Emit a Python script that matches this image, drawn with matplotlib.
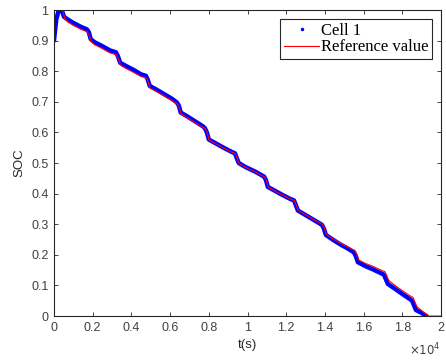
import matplotlib
matplotlib.use("Agg")
import matplotlib.pyplot as plt
from matplotlib.lines import Line2D

# Cell 1 (estimated SOC) knots
cell_t = [0, 120, 250, 430, 520, 650, 1000, 1400, 1700, 1800,
          1900, 2100, 2500, 2900, 3200, 3300, 3420, 3700, 4100, 4500,
          4750, 4850, 4950, 5300, 5700, 6100, 6350, 6450, 6550, 6900,
          7300, 7700, 7800, 7900, 8000, 8400, 8800, 9200, 9350, 9450,
          9550, 9900, 10400, 10850, 10950, 11050, 11400, 11800, 12200, 12400,
          12500, 12600, 13000, 13400, 13850, 13950, 14050, 14400, 14800, 15200,
          15500, 15600, 15700, 16100, 16500, 16900, 17050, 17150, 17250, 17600,
          18000, 18400, 18500, 18600, 18700, 19000, 19250]
cell_soc = [0.90, 0.97, 1.0, 0.995, 0.978, 0.972, 0.958, 0.945, 0.937, 0.928,
            0.905, 0.895, 0.882, 0.868, 0.862, 0.850, 0.828, 0.818, 0.805, 0.790,
            0.785, 0.772, 0.752, 0.740, 0.725, 0.710, 0.698, 0.688, 0.665, 0.652,
            0.636, 0.620, 0.614, 0.600, 0.577, 0.563, 0.549, 0.536, 0.532, 0.515,
            0.500, 0.487, 0.472, 0.456, 0.445, 0.422, 0.410, 0.396, 0.383, 0.378,
            0.362, 0.345, 0.330, 0.315, 0.298, 0.285, 0.265, 0.250, 0.234, 0.220,
            0.208, 0.195, 0.176, 0.163, 0.152, 0.140, 0.135, 0.120, 0.105, 0.090,
            0.072, 0.055, 0.050, 0.035, 0.020, 0.010, 0.0]

# Reference value knots
ref_t = [0, 450, 560, 700, 1000, 1400, 1720, 1820, 1920, 2100,
         2500, 2900, 3220, 3320, 3440, 3700, 4100, 4500, 4770, 4870,
         4970, 5300, 5700, 6100, 6370, 6470, 6570, 6900, 7300, 7700,
         7820, 7920, 8020, 8400, 8800, 9200, 9370, 9470, 9570, 9900,
         10400, 10870, 10970, 11070, 11400, 11800, 12200, 12420, 12520, 12620,
         13000, 13400, 13870, 13970, 14070, 14400, 14800, 15200, 15550, 15650,
         15750, 16100, 16500, 16900, 17100, 17200, 17300, 17600, 18000, 18400,
         18550, 18650, 18750, 19050, 19330, 20000]
ref_soc = [1.0, 1.0, 0.972, 0.962, 0.950, 0.937, 0.929, 0.918, 0.897, 0.887,
           0.874, 0.860, 0.854, 0.842, 0.820, 0.810, 0.797, 0.783, 0.778, 0.765,
           0.745, 0.734, 0.719, 0.704, 0.693, 0.683, 0.660, 0.648, 0.632, 0.617,
           0.612, 0.598, 0.575, 0.562, 0.548, 0.535, 0.531, 0.514, 0.499, 0.486,
           0.471, 0.455, 0.444, 0.421, 0.409, 0.396, 0.383, 0.378, 0.362, 0.345,
           0.331, 0.316, 0.300, 0.287, 0.267, 0.253, 0.238, 0.225, 0.214, 0.201,
           0.183, 0.172, 0.162, 0.150, 0.145, 0.131, 0.116, 0.101, 0.083, 0.066,
           0.061, 0.046, 0.031, 0.015, 0.0, 0.0]

xticks = [0, 2000, 4000, 6000, 8000, 10000, 12000, 14000, 16000, 18000, 20000]
xtick_labels = ["0", "0.2", "0.4", "0.6", "0.8", "1", "1.2", "1.4", "1.6", "1.8", "2"]
yticks = [0, 0.1, 0.2, 0.3, 0.4, 0.5, 0.6, 0.7, 0.8, 0.9, 1.0]
ytick_labels = ["0", "0.1", "0.2", "0.3", "0.4", "0.5", "0.6", "0.7", "0.8", "0.9", "1"]

plt.rcParams['font.family'] = ['Liberation Sans', 'DejaVu Sans']

fig = plt.figure(figsize=(4.46, 3.6), dpi=100)
ax = fig.add_axes([0.121, 0.122, 0.868, 0.850])

ax.plot(cell_t, cell_soc, color='#0000ff', lw=3.2, solid_joinstyle='round',
        solid_capstyle='round')
ax.plot(ref_t, ref_soc, color='#ff0000', lw=0.8)

ax.set_xlim(0, 20000)
ax.set_ylim(0, 1)
ax.set_xticks(xticks)
ax.set_xticklabels(xtick_labels)
ax.set_yticks(yticks)
ax.set_yticklabels(ytick_labels)

axc = '#262626'
for s in ax.spines.values():
    s.set_color(axc)
    s.set_linewidth(0.8)
ax.tick_params(direction='in', top=True, right=True, length=3, width=0.6,
               colors=axc, labelsize=9, pad=4)
for lab in ax.get_xticklabels() + ax.get_yticklabels():
    lab.set_color('#404040')

ax.set_xlabel('t(s)', fontsize=9.5, color='#262626', labelpad=4)
ax.set_ylabel('SOC', fontsize=9.5, color='#262626', labelpad=4)
ax.text(1.0, -0.085, r'$\times10^{4}$', transform=ax.transAxes, ha='right',
        va='top', fontsize=8.5, color='#404040')

handles = [Line2D([], [], color='#0000ff', marker='.', ls='none', markersize=3),
           Line2D([], [], color='#ff0000', lw=0.8)]
leg = ax.legend(handles, ['Cell 1', 'Reference value'], loc='upper right',
                prop={'family': 'Liberation Serif', 'size': 12},
                fancybox=False, framealpha=1, edgecolor='#262626',
                borderpad=0.2, labelspacing=0.05, handlelength=2.15,
                handletextpad=0.1, borderaxespad=0.55)
leg.get_frame().set_linewidth(0.8)

fig.savefig('out.png', dpi=100)
